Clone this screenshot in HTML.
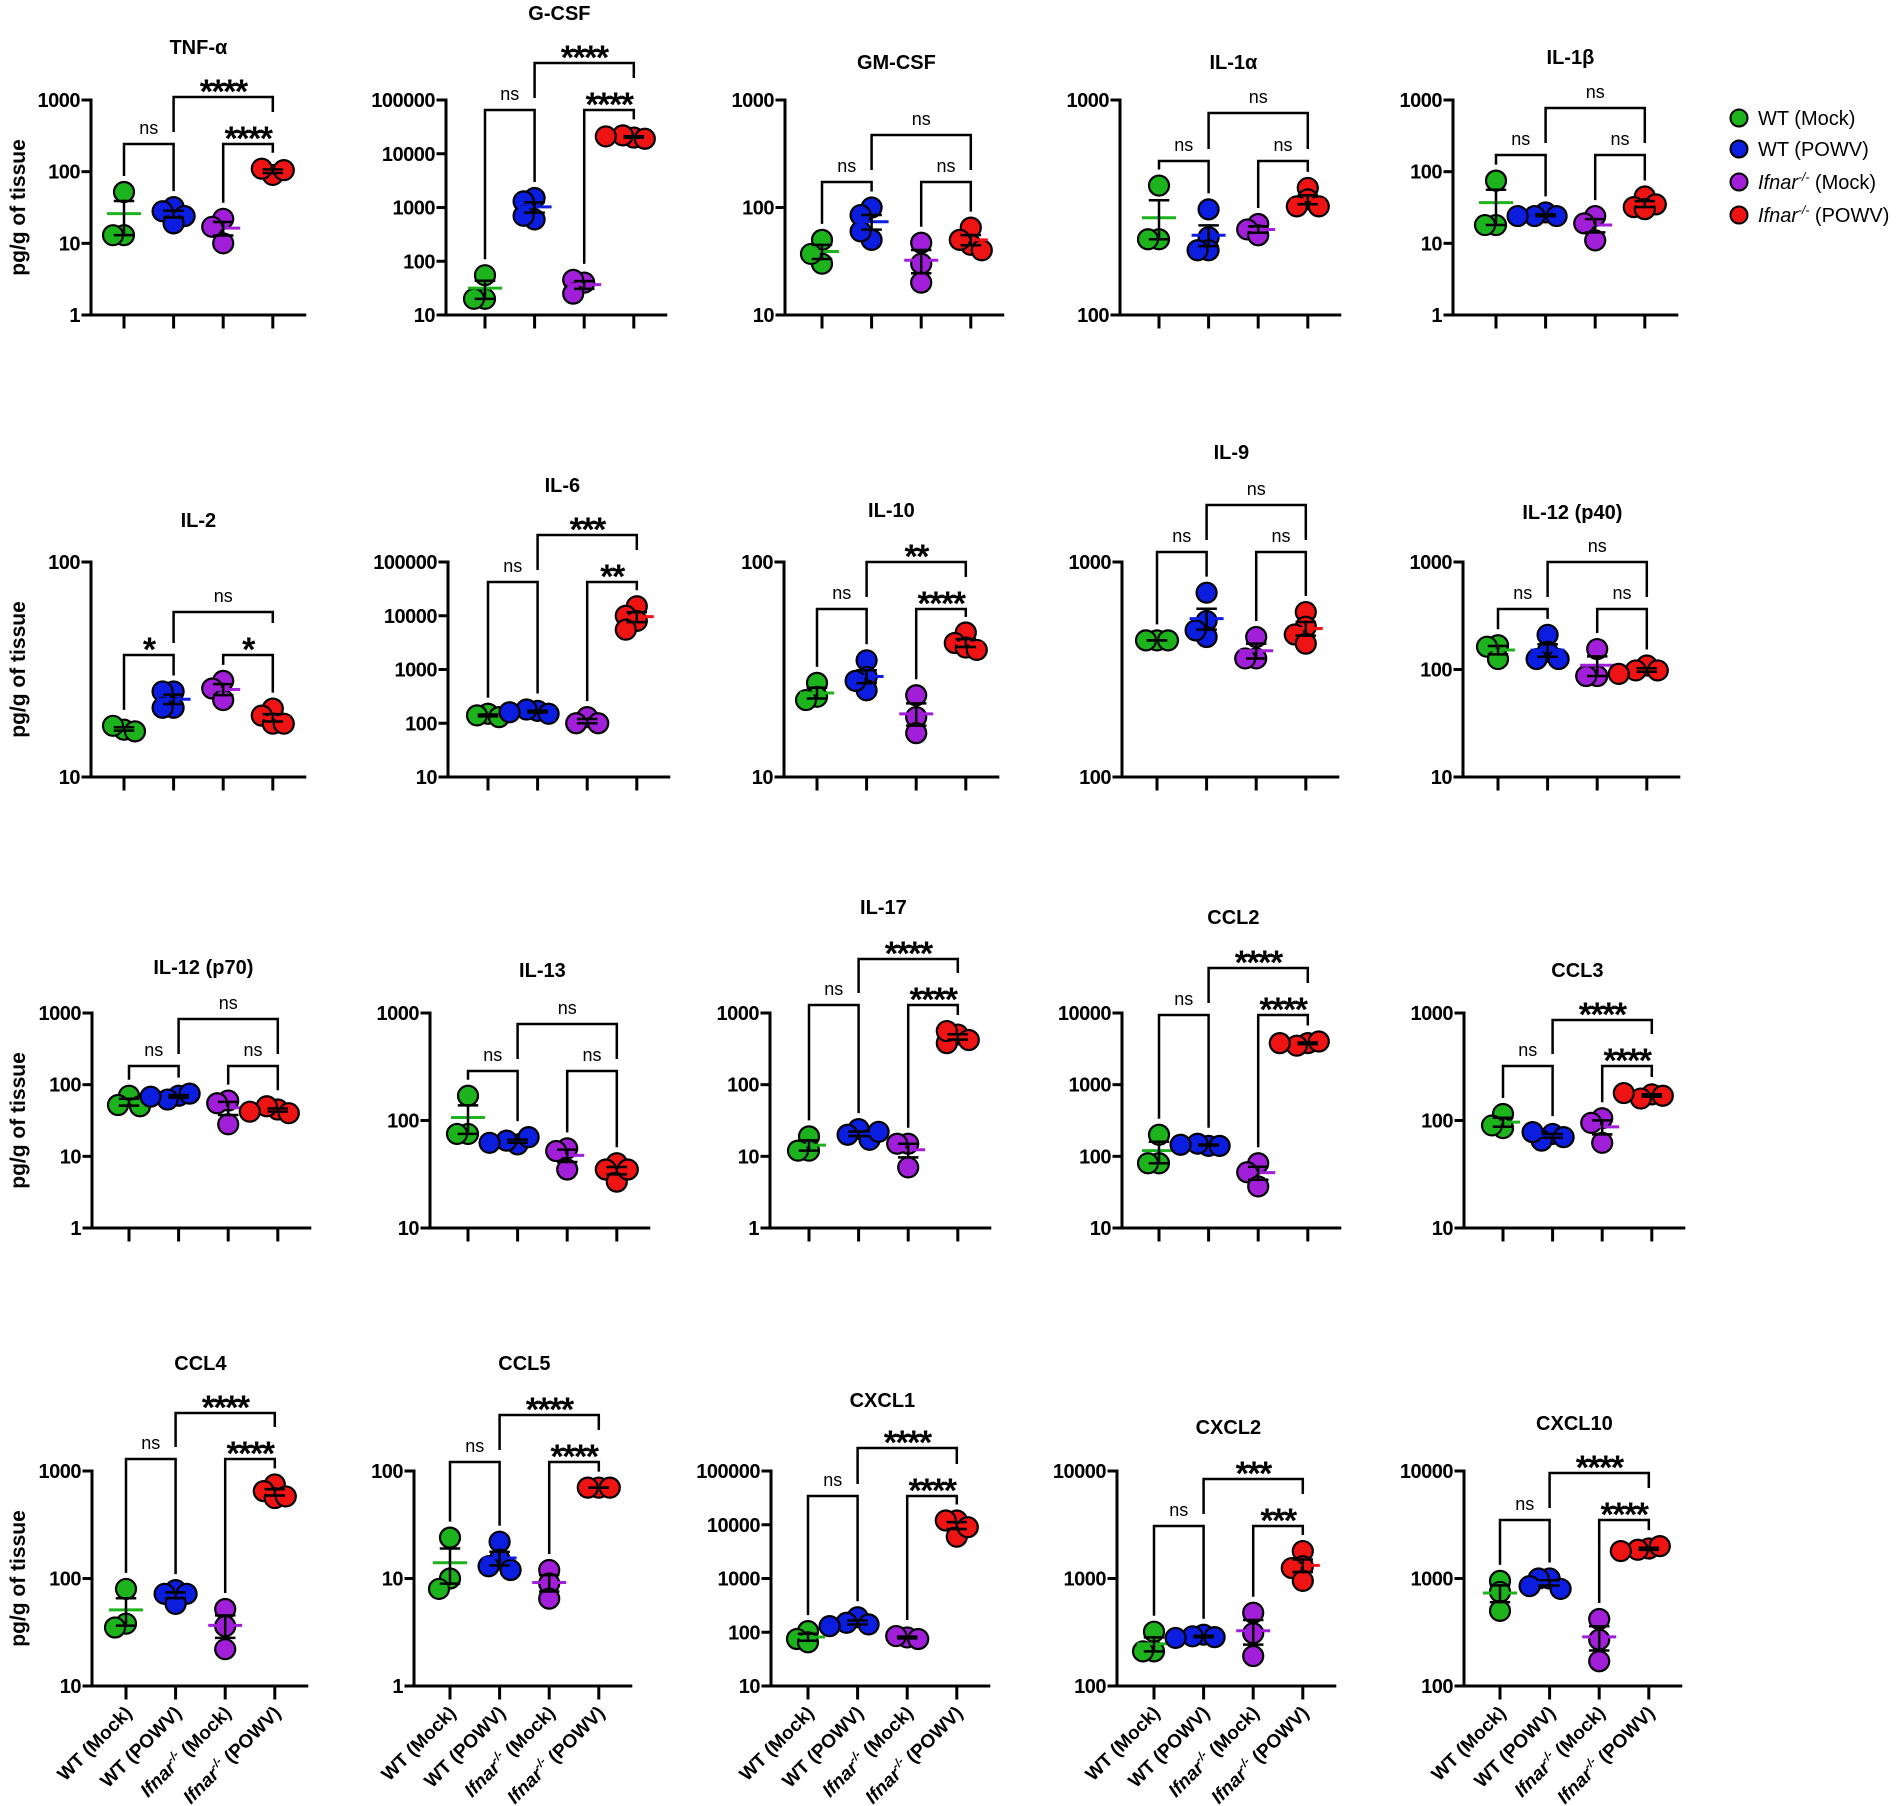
<!DOCTYPE html>
<html><head><meta charset="utf-8"><style>
html,body{margin:0;padding:0;background:#fff;}
svg{display:block;font-family:"Liberation Sans",Arial,sans-serif;}
</style></head><body>
<svg id="fig" width="1902" height="1806" viewBox="0 0 1902 1806" xmlns="http://www.w3.org/2000/svg"></svg>
<script>
// ---- data (values in pg/g of tissue) ----
const groupNames = ["WT (Mock)", "WT (POWV)", "Ifnar-/- (Mock)", "Ifnar-/- (POWV)"];
const tnfWtMock=[52,13,13], tnfWtPowv=[32,28,24,19], tnfKoMock=[22,17,10], tnfKoPowv=[90,110,105];
const gcsfWtMock=[55,20,20], gcsfWtPowv=[1500,1300,600,700], gcsfKoMock=[40,45,25], gcsfKoPowv=[20000,22000,19000,21000];
const gmcsfWtMock=[50,30,37], gmcsfWtPowv=[100,85,50,60], gmcsfKoMock=[47,30,20], gmcsfKoPowv=[65,45,50,40];
const il1aWtMock=[400,225,225], il1aWtPowv=[310,230,200,200], il1aKoMock=[265,250,235], il1aKoPowv=[390,345,320,320];
const il1bWtMock=[75,18,18], il1bWtPowv=[27,24,24,24], il1bKoMock=[24,19,11], il1bKoPowv=[45,32,35,30];
const il2WtMock=[16.6,17.3,16.3], il2WtPowv=[25,25,21,21], il2KoMock=[28,25.8,22.8], il2KoPowv=[20.8,19.3,17.7,17.7];
const il6WtMock=[150,140,130], il6WtPowv=[170,180,150,160], il6KoMock=[130,100,100], il6KoPowv=[15000,10000,8000,5500];
const il10WtMock=[27.4,23.6,22.8], il10WtPowv=[34.9,29.2,25.3,28], il10KoMock=[24,19,16], il10KoPowv=[47,42,40,39];
const il9WtMock=[432,432,432], il9WtPowv=[720,532,448,481], il9KoMock=[448,356,356], il9KoPowv=[585,500,460,417];
const il12p40WtMock=[168,163,125], il12p40WtPowv=[210,146,125,125], il12p40KoMock=[155,87,87], il12p40KoPowv=[109,98,98,91];
const il12p70WtMock=[70,52,50], il12p70WtPowv=[70,62,75,68], il12p70KoMock=[60,55,28], il12p70KoPowv=[45,50,40,42];
const il13WtMock=[170,75,75], il13WtPowv=[60,65,70,62], il13KoMock=[55,52,35], il13KoPowv=[40,35,27,35];
const il17WtMock=[19,12,12], il17WtPowv=[24,20,17,22], il17KoMock=[15,15,7], il17KoPowv=[500,380,560,420];
const ccl2WtMock=[200,80,80], ccl2WtPowv=[140,150,140,145], ccl2KoMock=[80,60,38], ccl2KoPowv=[3800,3500,4000,3800];
const ccl3WtMock=[115,85,90], ccl3WtPowv=[75,65,70,78], ccl3KoMock=[105,95,62], ccl3KoPowv=[175,160,170,180];
const ccl4WtMock=[80,38,35], ccl4WtPowv=[78,72,72,58], ccl4KoMock=[52,36,22], ccl4KoPowv=[750,650,560,580];
const ccl5WtMock=[24,10,8], ccl5WtPowv=[22,15,13,12], ccl5KoMock=[12,9,6.5], ccl5KoPowv=[70,70,70];
const cxcl1WtMock=[105,75,65], cxcl1WtPowv=[190,150,140,130], cxcl1KoMock=[80,85,75], cxcl1KoPowv=[12000,12000,6000,9000];
const cxcl2WtMock=[320,210,210], cxcl2WtPowv=[300,290,285,280], cxcl2KoMock=[480,310,190], cxcl2KoPowv=[1800,1300,1250,950];
const cxcl10WtMock=[950,750,500], cxcl10WtPowv=[1000,1000,800,850], cxcl10KoMock=[420,270,170], cxcl10KoPowv=[1900,1850,2000,1800];
// significance labels: [WT mock vs WT POWV, KO mock vs KO POWV, WT POWV vs KO POWV]
const tnfSig=["ns","****","****"], gcsfSig=["ns","****","****"], gmcsfSig=["ns","ns","ns"], il1aSig=["ns","ns","ns"], il1bSig=["ns","ns","ns"];
const il2Sig=["*","*","ns"], il6Sig=["ns","**","***"], il10Sig=["ns","****","**"], il9Sig=["ns","ns","ns"], il12p40Sig=["ns","ns","ns"];
const il12p70Sig=["ns","ns","ns"], il13Sig=["ns","ns","ns"], il17Sig=["ns","****","****"], ccl2Sig=["ns","****","****"], ccl3Sig=["ns","****","****"];
const ccl4Sig=["ns","****","****"], ccl5Sig=["ns","****","****"], cxcl1Sig=["ns","****","****"], cxcl2Sig=["ns","***","***"], cxcl10Sig=["ns","****","****"];
// axis ranges (decades)
const tnfRange=[1,1000], gcsfRange=[10,100000], gmcsfRange=[10,1000], il1aRange=[100,1000], il1bRange=[1,1000];
const il2Range=[10,100], il6Range=[10,100000], il10Range=[10,100], il9Range=[100,1000], il12p40Range=[10,1000];
const il12p70Range=[1,1000], il13Range=[10,1000], il17Range=[1,1000], ccl2Range=[10,10000], ccl3Range=[10,1000];
const ccl4Range=[10,1000], ccl5Range=[1,100], cxcl1Range=[10,100000], cxcl2Range=[100,10000], cxcl10Range=[100,10000];

// ---- layout ----
const rowTop=[100,562,1013,1471];
const H=215, SP=49.6, R=10;
const colors=["#1db31d","#0b1ee0","#a11fd9","#ee1414"];
const panels=[
 {t:"TNF-α",r:0,ax:91,c1:124,ty:47,ub:-3,lb:44,g:[tnfWtMock,tnfWtPowv,tnfKoMock,tnfKoPowv],s:tnfSig,rg:tnfRange},
 {t:"G-CSF",r:0,ax:446,c1:485,ty:13,ub:-37,lb:10,g:[gcsfWtMock,gcsfWtPowv,gcsfKoMock,gcsfKoPowv],s:gcsfSig,rg:gcsfRange},
 {t:"GM-CSF",r:0,ax:785,c1:822,ty:62,ub:35,lb:82,g:[gmcsfWtMock,gmcsfWtPowv,gmcsfKoMock,gmcsfKoPowv],s:gmcsfSig,rg:gmcsfRange},
 {t:"IL-1α",r:0,ax:1120,c1:1159,ty:62,ub:13,lb:61,g:[il1aWtMock,il1aWtPowv,il1aKoMock,il1aKoPowv],s:il1aSig,rg:il1aRange},
 {t:"IL-1β",r:0,ax:1453,c1:1496,ty:57,ub:8,lb:55,g:[il1bWtMock,il1bWtPowv,il1bKoMock,il1bKoPowv],s:il1bSig,rg:il1bRange},
 {t:"IL-2",r:1,ax:91,c1:124,ty:520,ub:50,lb:93,g:[il2WtMock,il2WtPowv,il2KoMock,il2KoPowv],s:il2Sig,rg:il2Range},
 {t:"IL-6",r:1,ax:448,c1:488,ty:485,ub:-27,lb:20,g:[il6WtMock,il6WtPowv,il6KoMock,il6KoPowv],s:il6Sig,rg:il6Range},
 {t:"IL-10",r:1,ax:784,c1:817,ty:510,ub:0,lb:47,g:[il10WtMock,il10WtPowv,il10KoMock,il10KoPowv],s:il10Sig,rg:il10Range},
 {t:"IL-9",r:1,ax:1122,c1:1157,ty:452,ub:-57,lb:-10,g:[il9WtMock,il9WtPowv,il9KoMock,il9KoPowv],s:il9Sig,rg:il9Range},
 {t:"IL-12 (p40)",r:1,ax:1463,c1:1498,ty:512,ub:0,lb:47,g:[il12p40WtMock,il12p40WtPowv,il12p40KoMock,il12p40KoPowv],s:il12p40Sig,rg:il12p40Range},
 {t:"IL-12 (p70)",r:2,ax:92,c1:129,ty:967,ub:6,lb:53,g:[il12p70WtMock,il12p70WtPowv,il12p70KoMock,il12p70KoPowv],s:il12p70Sig,rg:il12p70Range},
 {t:"IL-13",r:2,ax:430,c1:468,ty:970,ub:11,lb:58,g:[il13WtMock,il13WtPowv,il13KoMock,il13KoPowv],s:il13Sig,rg:il13Range},
 {t:"IL-17",r:2,ax:770,c1:809,ty:907,ub:-54,lb:-8,g:[il17WtMock,il17WtPowv,il17KoMock,il17KoPowv],s:il17Sig,rg:il17Range},
 {t:"CCL2",r:2,ax:1122,c1:1159,ty:917,ub:-45,lb:2,g:[ccl2WtMock,ccl2WtPowv,ccl2KoMock,ccl2KoPowv],s:ccl2Sig,rg:ccl2Range},
 {t:"CCL3",r:2,ax:1464,c1:1503,ty:970,ub:7,lb:53,g:[ccl3WtMock,ccl3WtPowv,ccl3KoMock,ccl3KoPowv],s:ccl3Sig,rg:ccl3Range},
 {t:"CCL4",r:3,ax:92,c1:126,ty:1363,ub:-58,lb:-12,g:[ccl4WtMock,ccl4WtPowv,ccl4KoMock,ccl4KoPowv],s:ccl4Sig,rg:ccl4Range},
 {t:"CCL5",r:3,ax:414,c1:450,ty:1363,ub:-56,lb:-9,g:[ccl5WtMock,ccl5WtPowv,ccl5KoMock,ccl5KoPowv],s:ccl5Sig,rg:ccl5Range},
 {t:"CXCL1",r:3,ax:771,c1:808,ty:1400,ub:-23,lb:25,g:[cxcl1WtMock,cxcl1WtPowv,cxcl1KoMock,cxcl1KoPowv],s:cxcl1Sig,rg:cxcl1Range},
 {t:"CXCL2",r:3,ax:1117,c1:1154,ty:1427,ub:8,lb:55,g:[cxcl2WtMock,cxcl2WtPowv,cxcl2KoMock,cxcl2KoPowv],s:cxcl2Sig,rg:cxcl2Range},
 {t:"CXCL10",r:3,ax:1464,c1:1500,ty:1423,ub:2,lb:49,g:[cxcl10WtMock,cxcl10WtPowv,cxcl10KoMock,cxcl10KoPowv],s:cxcl10Sig,rg:cxcl10Range}
];

const NS="http://www.w3.org/2000/svg";
const svg=document.getElementById('fig');
function mk(tag,attrs,parent){const e=document.createElementNS(NS,tag);for(const k in attrs)e.setAttribute(k,attrs[k]);(parent||svg).appendChild(e);return e;}
function line(x1,y1,x2,y2,w,c,p){return mk('line',{x1:x1,y1:y1,x2:x2,y2:y2,stroke:c||'#000','stroke-width':w||2.5,'stroke-linecap':'square'},p);}
function slug(t){return t.toLowerCase().replace(/α/g,'alpha').replace(/β/g,'beta').replace(/[^a-z0-9]+/g,'-').replace(/-+$/,'');}

panels.forEach(function(P,pi){
  const top=rowTop[P.r], bottom=top+H;
  const l0=Math.log10(P.rg[0]), l1=Math.log10(P.rg[1]);
  const yScale=function(v){return bottom-(Math.log10(v)-l0)/(l1-l0)*H;};
  const xScale=function(i){return P.c1+i*SP;};
  const g=mk('g',{});
  
  
  const tt=mk('text',{x:(xScale(0)+xScale(3))/2,y:P.ty+7,'text-anchor':'middle','font-size':20,'font-weight':'bold'},g);
  tt.textContent=P.t;
  
  
  const axEnd=xScale(3)+32;
  const ya=line(P.ax,top,P.ax,bottom,3,'#000',g);
  
  
  const xa=line(P.ax,bottom,axEnd,bottom,3,'#000',g);
  
  
  for(let d=Math.round(l0);d<=Math.round(l1);d++){
    const v=Math.pow(10,d), y=yScale(v);
    line(P.ax-8,y,P.ax,y,3,'#000',g);
    const tl=mk('text',{x:P.ax-11,y:y+7,'text-anchor':'end','font-size':20,'font-weight':'bold','letter-spacing':'-0.5'},g);
    tl.textContent=String(v);
    
    
  }
  for(let i=0;i<4;i++){
    line(xScale(i),bottom,xScale(i),bottom+12,3,'#000',g);
    if(P.r===3){
      const x=xScale(i)+7, y=bottom+28;
      const lt=mk('text',{x:x,y:y,'text-anchor':'end','font-size':19,'font-weight':'bold',transform:'rotate(-45 '+x+' '+y+')'},g);
      
      
      if(i<2){lt.textContent=groupNames[i];}
      else{
        const a=mk('tspan',{'font-style':'italic'},lt);a.textContent='Ifnar';
        const b=mk('tspan',{'font-size':12,dy:-8,'font-style':'italic'},lt);b.textContent='-/-';
        const c=mk('tspan',{dy:8},lt);c.textContent=(i===2?' (Mock)':' (POWV)');
      }
    }
  }
  const groupTop=[];
  P.g.forEach(function(vals,gi){
    const cx=xScale(gi);
    const placed=[];
    let minY=1e9;
    vals.forEach(function(v){
      const y=yScale(v);
      const cands=[0,-11,11,-20,20,-28,28];
      let off=cands[cands.length-1];
      for(const o of cands){
        let ok=true;
        for(const p of placed){const dx=p[0]-o, dy=p[1]-y; if(dx*dx+dy*dy<11*11){ok=false;break;}}
        if(ok){off=o;break;}
      }
      placed.push([off,y]);
      minY=Math.min(minY,y);
      const c=mk('circle',{cx:cx+off,cy:y,r:R,fill:colors[gi],stroke:'#000','stroke-width':2.2},g);
      
      
    });
    groupTop.push(minY-R);
    const n=vals.length, mean=vals.reduce(function(a,b){return a+b;},0)/n;
    const sd=Math.sqrt(vals.reduce(function(a,b){return a+(b-mean)*(b-mean);},0)/(n-1));
    const sem=sd/Math.sqrt(n);
    const yHi=yScale(mean+sem), yLo=yScale(Math.max(mean-sem,P.rg[0]*0.5));
    const ml=line(cx-17,yScale(mean),cx+17,yScale(mean),3,colors[gi],g);
    ml.setAttribute('stroke-linecap','butt');
    
    
    line(cx,yHi,cx,yLo,2.5,'#000',g);
    line(cx-9,yHi,cx+9,yHi,2.5,'#000',g);
    line(cx-9,yLo,cx+9,yLo,2.5,'#000',g);
  });
  function bracket(i,j,by,e1,e2,label){
    const b=mk('polyline',{points:xScale(i)+','+e1+' '+xScale(i)+','+by+' '+xScale(j)+','+by+' '+xScale(j)+','+e2,fill:'none',stroke:'#000','stroke-width':2.5},g);
    
    
    const mx=(xScale(i)+xScale(j))/2;
    let t;
    if(label==='ns'){t=mk('text',{x:mx,y:by-10,'text-anchor':'middle','font-size':18},g);}
    else{t=mk('text',{x:mx,y:by+6,'text-anchor':'middle','font-size':34,'font-weight':'bold','letter-spacing':'-1.5'},g);}
    t.textContent=label;
    
    
  }
  const lby=top+P.lb, uby=top+P.ub;
  function legEnd(gi,by){return Math.max(by+8,groupTop[gi]-6);}
  bracket(0,1,lby,legEnd(0,lby),legEnd(1,lby),P.s[0]);
  bracket(2,3,lby,legEnd(2,lby),legEnd(3,lby),P.s[1]);
  bracket(1,3,uby,lby-12,lby-(P.s[1]==='ns'?12:32),P.s[2]);
});

rowTop.forEach(function(t){
  const y=t+H/2;
  const e=mk('text',{x:0,y:0,'text-anchor':'middle','font-size':21,'font-weight':'bold',transform:'translate(25 '+y+') rotate(-90)'});
  e.textContent='pg/g of tissue';
  
  
});

const legY=[118,149,182,215];
const lg=mk('g',{});


for(let i=0;i<4;i++){
  const c=mk('circle',{cx:1739,cy:legY[i],r:8.5,fill:colors[i],stroke:'#000','stroke-width':2},lg);
  
  
  const t=mk('text',{x:1758,y:legY[i]+7,'font-size':20},lg);
  
  
  if(i<2){t.textContent=groupNames[i];}
  else{
    const a=mk('tspan',{'font-style':'italic'},t);a.textContent='Ifnar';
    const b=mk('tspan',{'font-size':12,dy:-8,'font-style':'italic'},t);b.textContent='-/-';
    const d=mk('tspan',{dy:8},t);d.textContent=(i===2?' (Mock)':' (POWV)');
  }
}
</script>
</body></html>
